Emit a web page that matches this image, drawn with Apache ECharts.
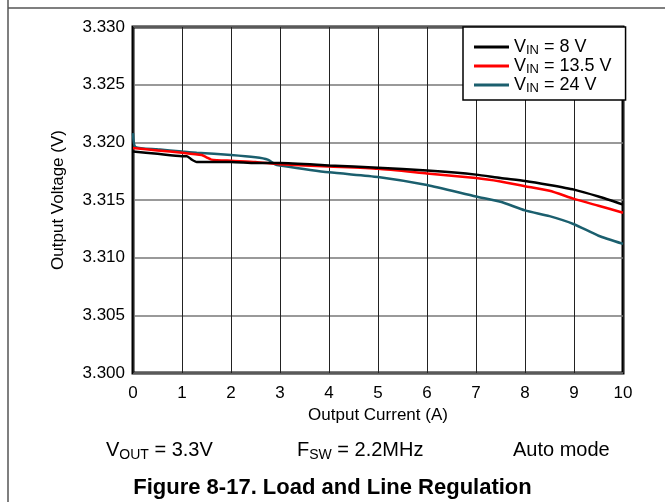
<!DOCTYPE html>
<html>
<head>
<meta charset="utf-8">
<script src="https://cdn.jsdelivr.net/npm/echarts@6/dist/echarts.min.js"></script>
<style>
  html, body { margin: 0; padding: 0; background: #fff; }
  #Day { width: 665px; height: 502px; }
</style>
</head>
<body>
<div id="Day"></div>
<script>
// 数据
var vinNames = ['8 V', '13.5 V', '24 V'];
var colors = ['#000000', '#ff0000', '#1b5f6e'];

var cur8 = [0, 0.5, 1.0, 1.1, 1.2, 1.3, 1.5, 2, 2.5, 3, 4, 5, 6, 7, 7.5, 8, 8.5, 9, 9.5, 10];
var vout8 = [3.3192, 3.3190, 3.3188, 3.3188, 3.3185, 3.3183, 3.3183, 3.3183, 3.3182, 3.3182, 3.3180, 3.3178, 3.31755, 3.3172, 3.3169, 3.31665, 3.3163, 3.3159, 3.3153, 3.3146];

var cur135 = [0, 0.5, 1, 1.4, 1.5, 1.6, 2, 2.5, 3, 4, 5, 6, 7, 7.5, 8, 8.5, 9, 9.5, 10];
var vout135 = [3.3195, 3.3193, 3.3191, 3.3189, 3.3187, 3.3185, 3.3184, 3.3183, 3.3181, 3.3179, 3.3177, 3.3173, 3.3169, 3.3166, 3.3162, 3.3158, 3.3151, 3.3145, 3.3139];

var cur24 = [0, 0.05, 0.5, 1, 1.3, 2, 2.5, 2.75, 2.9, 3, 4, 5, 6, 7, 7.5, 8, 8.5, 9, 9.5, 10];
var vout24 = [3.3208, 3.3196, 3.3194, 3.3192, 3.3191, 3.3189, 3.3187, 3.3185, 3.3181, 3.3180, 3.3174, 3.3170, 3.3163, 3.3153, 3.31485, 3.3141, 3.3136, 3.3129, 3.3119, 3.3112];

var xTicks = {min: 0, max: 10, step: 1};
var yTicks = {min: 3.300, max: 3.330, step: 0.005};

function pairs(xs, ys) {
	var out = [];
	for (var i = 0; i < xs.length; i++) {
		out.push([xs[i], ys[i]]);
	}
	return out;
}

var allData = [pairs(cur8, vout8), pairs(cur135, vout135), pairs(cur24, vout24)];
var font = 'Arial, "Liberation Sans", sans-serif';

var myChart = echarts.init(document.getElementById('Day'));

var seriesList = [];
for (var i = 0; i < vinNames.length; i++) {
	seriesList.push({
		name: vinNames[i],
		type: 'line',
		data: allData[i],
		showSymbol: false,
		smooth: 0.2,
		lineStyle: { color: colors[i], width: 2.5 },
		itemStyle: { color: colors[i] },
		z: 3 - i
	});
}

// 带下标的文字样式
var subRich = {
	v: { fontSize: 20, lineHeight: 24, verticalAlign: 'middle', fontFamily: font, fill: '#000' },
	s: { fontSize: 14, lineHeight: 24, verticalAlign: 'bottom', fontFamily: font, fill: '#000' }
};

var option = {
	animation: false,
	backgroundColor: '#fff',
	title: {
		text: 'Figure 8-17. Load and Line Regulation',
		left: 'center',
		top: 477,
		padding: 0,
		textStyle: { fontFamily: font, fontSize: 22, fontWeight: 'bold', color: '#000' }
	},
	grid: {
		left: 133, right: 42, top: 27, bottom: 129,
		show: true,
		borderColor: '#000',
		borderWidth: 3,
		backgroundColor: 'transparent'
	},
	legend: {
		orient: 'vertical',
		left: 463,
		top: 27,
		padding: [11, 14, 5, 11],
		itemGap: 0,
		itemWidth: 35,
		itemHeight: 3,
		icon: 'rect',
		backgroundColor: '#fff',
		borderColor: '#000',
		borderWidth: 1.5,
		data: vinNames,
		formatter: function (name) {
			return '{v|V}{s|IN}{v| = ' + name + '}';
		},
		textStyle: {
			fontFamily: font,
			color: '#000',
			rich: {
				v: { fontSize: 18, lineHeight: 20, verticalAlign: 'middle', fontFamily: font },
				s: { fontSize: 13, lineHeight: 20, verticalAlign: 'bottom', fontFamily: font }
			}
		}
	},
	xAxis: {
		type: 'value',
		min: xTicks.min, max: xTicks.max, interval: xTicks.step,
		name: 'Output Current (A)',
		nameLocation: 'middle',
		nameGap: 29,
		nameTextStyle: { fontFamily: font, fontSize: 17, color: '#000' },
		axisLine: { show: false },
		axisTick: { show: false },
		axisLabel: { fontFamily: font, fontSize: 17, color: '#000', margin: 12 },
		splitLine: { show: true, lineStyle: { color: '#222', width: 1 } }
	},
	yAxis: {
		type: 'value',
		min: yTicks.min, max: yTicks.max, interval: yTicks.step,
		name: 'Output Voltage (V)',
		nameLocation: 'middle',
		nameGap: 66,
		nameTextStyle: { fontFamily: font, fontSize: 17, color: '#000' },
		axisLine: { show: false },
		axisTick: { show: false },
		axisLabel: {
			fontFamily: font, fontSize: 17, color: '#000', margin: 8,
			formatter: function (v) { return v.toFixed(3); }
		},
		splitLine: { show: true, lineStyle: { color: '#777', width: 1.5 } }
	},
	graphic: [
		{ type: 'line', shape: { x1: 8, y1: 8, x2: 665, y2: 8 }, style: { stroke: '#555', lineWidth: 1.5 } },
		{ type: 'line', shape: { x1: 8, y1: 0, x2: 8, y2: 502 }, style: { stroke: '#555', lineWidth: 1.5 } },
		{
			type: 'text', left: 106, top: 440,
			style: { text: '{v|V}{s|OUT}{v| = 3.3V}', rich: subRich }
		},
		{
			type: 'text', left: 297, top: 440,
			style: { text: '{v|F}{s|SW}{v| = 2.2MHz}', rich: subRich }
		},
		{
			type: 'text', left: 513, top: 440,
			style: { text: 'Auto mode', font: '20px ' + font, fill: '#000' }
		}
	],
	series: seriesList
};

myChart.setOption(option);
window.addEventListener('resize', function () {
	myChart.resize();
});
</script>
</body>
</html>
